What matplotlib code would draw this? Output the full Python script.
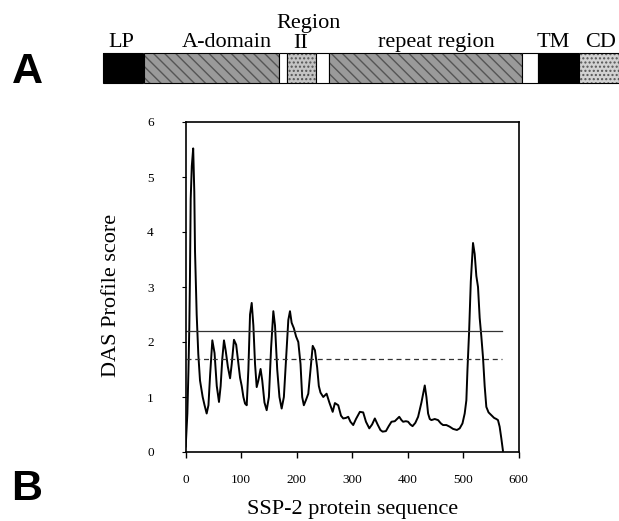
import matplotlib
matplotlib.use("Agg")
import matplotlib.pyplot as plt
from matplotlib.patches import Rectangle

# ---- Panel A: domain schematic (pixel layout of the protein bar) ----
domain_names = ["LP", "A-domain", "gap1", "Region II", "gap2", "repeat region", "gap3", "TM", "CD"]
domain_starts = [103, 144, 279, 287, 316, 329, 522, 538, 579]
domain_ends = [143, 279, 287, 316, 329, 522, 538, 579, 619]
domain_fill = ["#000000", "#9a9a9a", "#ffffff", "#c4c4c4", "#ffffff", "#9a9a9a", "#ffffff", "#000000", "#d2d2d2"]
domain_hatch = [None, "\\\\\\", None, "....", None, "\\\\\\", None, None, "...."]

# ---- Panel B: DAS profile ----
seq_pos = [0, 3, 5, 6.5, 7.7, 9, 11, 13.5, 15.5, 16.8, 19.8, 22.7, 25.8, 30.6, 34, 37.8,
           41, 44, 48, 52, 56, 60, 63, 66, 69, 72, 76, 80, 83, 87, 91, 95, 98, 101, 104,
           107, 110, 113, 116, 119, 122, 125, 128, 131, 135, 138, 142, 146, 150, 154, 158,
           161, 165, 169, 173, 177, 181, 185, 188, 191, 195, 199, 203, 207, 210, 213, 217,
           221, 225, 229, 233, 237, 240, 243, 248, 254, 259, 265, 269, 275, 280, 284, 289,
           293, 297, 302, 307, 314, 320, 325, 331, 336, 341, 346, 351, 355, 361, 366, 371,
           377, 381, 385, 389, 392, 397, 401, 405, 409, 414, 419, 425, 431, 434, 437, 440,
           443, 449, 455, 460, 464, 470, 476, 482, 489, 494, 499, 503, 506, 508, 511, 514,
           518, 521, 524, 527, 530, 533, 536, 539, 542, 546, 551, 556, 560, 563, 566, 569, 572]
das_score = [0.1, 0.7, 1.5, 2.26, 3.2, 4.6, 5.2, 5.52, 4.73, 3.65, 2.5, 1.78, 1.3, 1.0, 0.85, 0.7,
             0.85, 1.4, 2.03, 1.8, 1.2, 0.91, 1.2, 1.7, 2.03, 1.85, 1.55, 1.34, 1.6, 2.04, 1.95, 1.6, 1.35, 1.2, 1.0,
             0.88, 0.85, 1.5, 2.5, 2.71, 2.3, 1.6, 1.18, 1.3, 1.51, 1.3, 0.9, 0.76, 1.0, 1.9, 2.56,
             2.3, 1.5, 1.0, 0.79, 1.0, 1.7, 2.4, 2.56, 2.35, 2.25, 2.1, 2.0, 1.6, 1.0, 0.85, 0.95,
             1.06, 1.5, 1.93, 1.85, 1.54, 1.2, 1.08, 1.0, 1.06, 0.9, 0.73, 0.89, 0.85, 0.66, 0.61, 0.62,
             0.64, 0.55, 0.49, 0.6, 0.73, 0.72, 0.55, 0.43, 0.5, 0.61, 0.5, 0.4, 0.37, 0.38, 0.47, 0.55,
             0.56, 0.6, 0.64, 0.58, 0.55, 0.56, 0.55, 0.5, 0.47, 0.53, 0.64, 0.9, 1.21, 1.0, 0.7, 0.6,
             0.58, 0.6, 0.58, 0.52, 0.49, 0.49, 0.46, 0.42, 0.40, 0.43, 0.52, 0.7, 0.94, 1.5, 2.2, 3.1,
             3.80, 3.6, 3.2, 3.0, 2.44, 2.1, 1.72, 1.2, 0.82, 0.72, 0.67, 0.62, 0.6, 0.58, 0.46, 0.25, 0.02]
threshold_strict = 2.2
threshold_loose = 1.7
threshold_span = [0, 570]
x_ticks = [0, 100, 200, 300, 400, 500, 600]
y_ticks = [0, 1, 2, 3, 4, 5, 6]

serif = ["Liberation Serif", "DejaVu Serif"]
sans = ["Liberation Sans", "DejaVu Sans"]

W, H = 619, 521
fig = plt.figure(figsize=(W / 100, H / 100), dpi=100)
fig.patch.set_facecolor("white")

# overlay axes in pixel coordinates
ov = fig.add_axes([0, 0, 1, 1])
ov.set_xlim(0, W)
ov.set_ylim(H, 0)
ov.axis("off")

bar_top, bar_bot = 53, 83
for s, e, fc, hp in zip(domain_starts, domain_ends, domain_fill, domain_hatch):
    if hp:
        ov.add_patch(Rectangle((s, bar_top), e - s, bar_bot - bar_top, facecolor=fc,
                               edgecolor="#555555", hatch=hp, lw=0))
    else:
        ov.add_patch(Rectangle((s, bar_top), e - s, bar_bot - bar_top, facecolor=fc, lw=0))
    ov.add_patch(Rectangle((s, bar_top), e - s, bar_bot - bar_top, facecolor="none",
                           edgecolor="black", lw=0.8))

label_kw = dict(family=serif, fontsize=16, ha="center", va="baseline", color="black")
ov.text(121, 47, "LP", **label_kw)
ov.text(227, 47, "A-domain", **label_kw)
ov.text(309, 28, "Region", **label_kw)
ov.text(301, 48, "II", **label_kw)
ov.text(436, 47, "repeat region", **label_kw)
ov.text(553, 47, "TM", **label_kw)
ov.text(601, 47, "CD", **label_kw)

ov.text(27, 83, "A", family=sans, fontsize=31, fontweight="bold", ha="center", va="baseline")
ov.text(27, 500, "B", family=sans, fontsize=31, fontweight="bold", ha="center", va="baseline")

# axis titles placed in pixel coordinates
ov.text(353, 514, "SSP-2 protein sequence", family=serif, fontsize=16, ha="center", va="baseline")
ov.text(111, 295, "DAS Profile score", family=serif, fontsize=16, ha="center", va="center",
        rotation=90)

# main plot
ax = fig.add_axes([185.7 / W, 69 / H, (518.5 - 185.7) / W, (399 - 69) / H])
ax.plot(seq_pos, das_score, color="black", lw=1.4)
ax.plot(threshold_span, [threshold_strict] * 2, color="#333333", lw=0.9)
ax.plot(threshold_span, [threshold_loose] * 2, color="#333333", lw=0.9, ls=(0, (4, 3)))
ax.set_xlim(0, 600)
ax.set_ylim(0, 6)
ax.set_xticks(x_ticks)
ax.set_yticks(y_ticks)
ax.set_xticklabels([str(v) for v in x_ticks], family=serif, fontsize=9.5)
ax.set_yticklabels([str(v) for v in y_ticks], family=serif, fontsize=9.5)
ax.tick_params(axis="x", direction="out", length=4, width=1, pad=12)
ax.tick_params(axis="y", direction="out", length=3, width=0.8, pad=20)
for sp in ax.spines.values():
    sp.set_linewidth(1.2)

fig.savefig("out.png", dpi=100, facecolor="white")
